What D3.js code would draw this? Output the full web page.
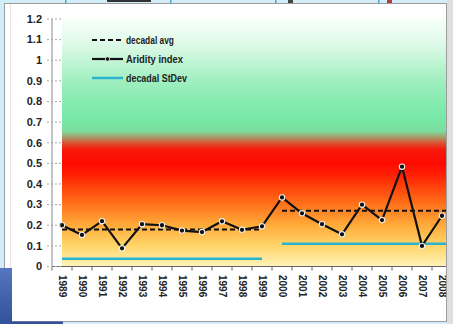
<!DOCTYPE html>
<html>
<head>
<meta charset="utf-8">
<script src="https://cdn.jsdelivr.net/npm/d3@7"></script>
<style>
  html, body { margin: 0; padding: 0; background: #d3eef8; }
  svg { display: block; }
  text { font-family: "Liberation Sans", Arial, sans-serif; font-weight: bold; fill: #222; }
</style>
</head>
<body>
<svg id="chart" width="453" height="324"></svg>
<script>
// Years on the category axis
const years = ["1989","1990","1991","1992","1993","1994","1995","1996","1997","1998",
               "1999","2000","2001","2002","2003","2004","2005","2006","2007","2008"];

// Yearly aridity index
const aridity = [0.20, 0.153, 0.22, 0.088, 0.205, 0.20, 0.174, 0.167, 0.219, 0.178,
                 0.195, 0.335, 0.258, 0.205, 0.156, 0.30, 0.225, 0.484, 0.10, 0.246];

// Decade summaries: first and last year covered, mean and standard deviation
const decadeFrom  = ["1989", "2000"];
const decadeTo    = ["1999", "2008"];
const decadeAvg   = [0.18, 0.27];
const decadeStDev = [0.038, 0.11];

// Value axis ticks
const yTicks = [0, 0.1, 0.2, 0.3, 0.4, 0.5, 0.6, 0.7, 0.8, 0.9, 1, 1.1, 1.2];

const legendLabels = ["decadal avg", "Aridity index", "decadal StDev"];

const svg = d3.select("#chart");

// ---- slide surroundings -------------------------------------------------
svg.append("rect").attr("x", 0).attr("y", 0).attr("width", 453).attr("height", 324).attr("fill", "#d3eef8");
svg.append("rect").attr("x", 447).attr("y", 0).attr("width", 6).attr("height", 324).attr("fill", "#dedede");

// fragments of the slide above the panel
const topBits = svg.append("g");
[65, 170, 275, 378].forEach(x =>
  topBits.append("rect").attr("x", x).attr("y", 0).attr("width", 1.5).attr("height", 3).attr("fill", "#4aa6d6"));
topBits.append("rect").attr("x", 107).attr("y", 0).attr("width", 44).attr("height", 2).attr("fill", "#333");
topBits.append("rect").attr("x", 288).attr("y", 0).attr("width", 5).attr("height", 3).attr("fill", "#444");
topBits.append("rect").attr("x", 387).attr("y", 0).attr("width", 5).attr("height", 3).attr("fill", "#b04040");

// white panel holding the chart
svg.append("rect").attr("x", 4.5).attr("y", 3.5).attr("width", 442).attr("height", 318)
  .attr("fill", "#fff").attr("stroke", "#9c9c9c").attr("stroke-width", 1);
svg.append("line").attr("x1", 10.5).attr("x2", 10.5).attr("y1", 4).attr("y2", 268)
  .attr("stroke", "#e4e4e4").attr("stroke-width", 1);
const blueGrad = svg.append("defs").append("linearGradient").attr("id", "slideBlue")
  .attr("x1", 0).attr("x2", 0).attr("y1", 0).attr("y2", 1);
blueGrad.append("stop").attr("offset", 0).attr("stop-color", "#5576c0");
blueGrad.append("stop").attr("offset", 1).attr("stop-color", "#34509a");
svg.append("rect").attr("x", 0).attr("y", 268).attr("width", 12).attr("height", 56).attr("fill", "url(#slideBlue)");
svg.append("rect").attr("x", 12).attr("y", 321.5).attr("width", 51).attr("height", 2.5).attr("fill", "#34509a");

// ---- scales ---------------------------------------------------------------
const x = d3.scaleBand().domain(years).range([52, 452]).paddingInner(0).paddingOuter(0);
const cx = d => x(d) + x.bandwidth() / 2;
const y = d3.scaleLinear().domain([0, 1.2]).range([266.5, 19]);

const defs = svg.append("defs");
defs.append("clipPath").attr("id", "panelClip")
  .append("rect").attr("x", 0).attr("y", 0).attr("width", 446).attr("height", 324);

// background colour bands, green (humid) at the top through red to yellow (arid)
const bandStops = [
  [1.2, "#f6fff9"], [1.1, "#e4fbec"], [1.0, "#c4f5d6"], [0.9, "#a0efc0"],
  [0.8, "#86ebb0"], [0.7, "#76e7a6"], [0.655, "#7cdc9e"], [0.625, "#aa9666"],
  [0.595, "#e04a2c"], [0.565, "#f8180a"], [0.5, "#ff0a00"], [0.45, "#ff1c04"],
  [0.4, "#ff3a0a"], [0.3, "#ff731a"], [0.2, "#ffab3a"], [0.1, "#ffd66a"], [0.0, "#fff3ba"]
];
const grad = defs.append("linearGradient").attr("id", "bands")
  .attr("gradientUnits", "userSpaceOnUse")
  .attr("x1", 0).attr("x2", 0).attr("y1", y(1.2)).attr("y2", y(0));
grad.selectAll("stop").data(bandStops).join("stop")
  .attr("offset", d => (y(d[0]) - y(1.2)) / (y(0) - y(1.2)))
  .attr("stop-color", d => d[1]);

const plot = svg.append("g").attr("clip-path", "url(#panelClip)");

plot.append("rect")
  .attr("x", cx(years[0])).attr("y", y(1.2))
  .attr("width", 452 - cx(years[0])).attr("height", y(0) - y(1.2))
  .attr("fill", "url(#bands)");

// ---- value axis -------------------------------------------------------------
const yAxis = svg.append("g");
yAxis.append("line").attr("x1", 52).attr("x2", 52).attr("y1", y(1.2)).attr("y2", y(0))
  .attr("stroke", "#888").attr("stroke-width", 1);
yAxis.selectAll("line.tick").data(yTicks).join("line").attr("class", "tick")
  .attr("x1", 47).attr("x2", 62).attr("y1", d => y(d)).attr("y2", d => y(d))
  .attr("stroke", "#aaa").attr("stroke-width", 1).attr("stroke-dasharray", "2,2");
yAxis.selectAll("text").data(yTicks).join("text")
  .attr("x", 42).attr("y", d => y(d)).attr("dy", "0.35em")
  .attr("text-anchor", "end").attr("font-size", 11)
  .text(d => String(+d.toFixed(1)));

// ---- category axis ------------------------------------------------------------
const xAxis = plot.append("g");
xAxis.append("line").attr("x1", 52).attr("x2", 452).attr("y1", y(0)).attr("y2", y(0))
  .attr("stroke", "#666").attr("stroke-width", 1);
xAxis.selectAll("line.tick").data(years).join("line").attr("class", "tick")
  .attr("x1", d => x(d)).attr("x2", d => x(d))
  .attr("y1", y(0)).attr("y2", y(0) + 4)
  .attr("stroke", "#666").attr("stroke-width", 1);
xAxis.selectAll("text").data(years).join("text")
  .attr("transform", d => `translate(${cx(d)},275) rotate(90)`)
  .attr("dy", "0.35em").attr("font-size", 10)
  .text(d => d);

// ---- decade statistics ------------------------------------------------------------
const decades = decadeFrom.map((f, i) => ({
  x1: cx(f), x2: i === decadeFrom.length - 1 ? 452 : cx(decadeTo[i]),
  avg: decadeAvg[i], sd: decadeStDev[i]
}));

plot.selectAll("line.sd").data(decades).join("line").attr("class", "sd")
  .attr("x1", d => d.x1).attr("x2", d => d.x2)
  .attr("y1", d => y(d.sd)).attr("y2", d => y(d.sd))
  .attr("stroke", "#2cb3cf").attr("stroke-width", 2.5);

plot.selectAll("line.avg").data(decades).join("line").attr("class", "avg")
  .attr("x1", d => d.x1).attr("x2", d => d.x2)
  .attr("y1", d => y(d.avg)).attr("y2", d => y(d.avg))
  .attr("stroke", "#111").attr("stroke-width", 2).attr("stroke-dasharray", "5,3");

// ---- aridity index line ---------------------------------------------------------------
const series = years.map((yr, i) => ({ yr, v: aridity[i] }));
plot.append("path").datum(series)
  .attr("fill", "none").attr("stroke", "#111").attr("stroke-width", 2.2)
  .attr("stroke-linejoin", "round")
  .attr("d", d3.line().x(d => cx(d.yr)).y(d => y(d.v)));
plot.selectAll("circle.pt").data(series).join("circle").attr("class", "pt")
  .attr("cx", d => cx(d.yr)).attr("cy", d => y(d.v)).attr("r", 2.7)
  .attr("fill", "#111").attr("stroke", "#eee").attr("stroke-width", 1.1);

// ---- legend -------------------------------------------------------------------
const legend = svg.append("g");
const ly = [40, 59, 78];
legend.append("line").attr("x1", 92).attr("x2", 123).attr("y1", ly[0]).attr("y2", ly[0])
  .attr("stroke", "#111").attr("stroke-width", 2).attr("stroke-dasharray", "5,3");
legend.append("line").attr("x1", 92).attr("x2", 123).attr("y1", ly[1]).attr("y2", ly[1])
  .attr("stroke", "#111").attr("stroke-width", 2.2);
legend.append("circle").attr("cx", 107.5).attr("cy", ly[1]).attr("r", 2.2)
  .attr("fill", "#111").attr("stroke", "#eee").attr("stroke-width", 0.8);
legend.append("line").attr("x1", 92).attr("x2", 123).attr("y1", ly[2]).attr("y2", ly[2])
  .attr("stroke", "#2cb3cf").attr("stroke-width", 2.5);
legend.selectAll("text").data(legendLabels).join("text")
  .attr("x", 126).attr("y", (d, i) => ly[i]).attr("dy", "0.35em")
  .attr("font-size", 10).attr("textLength", (d, i) => [48, 57, 61][i])
  .attr("lengthAdjust", "spacingAndGlyphs")
  .text(d => d);
</script>
</body>
</html>
